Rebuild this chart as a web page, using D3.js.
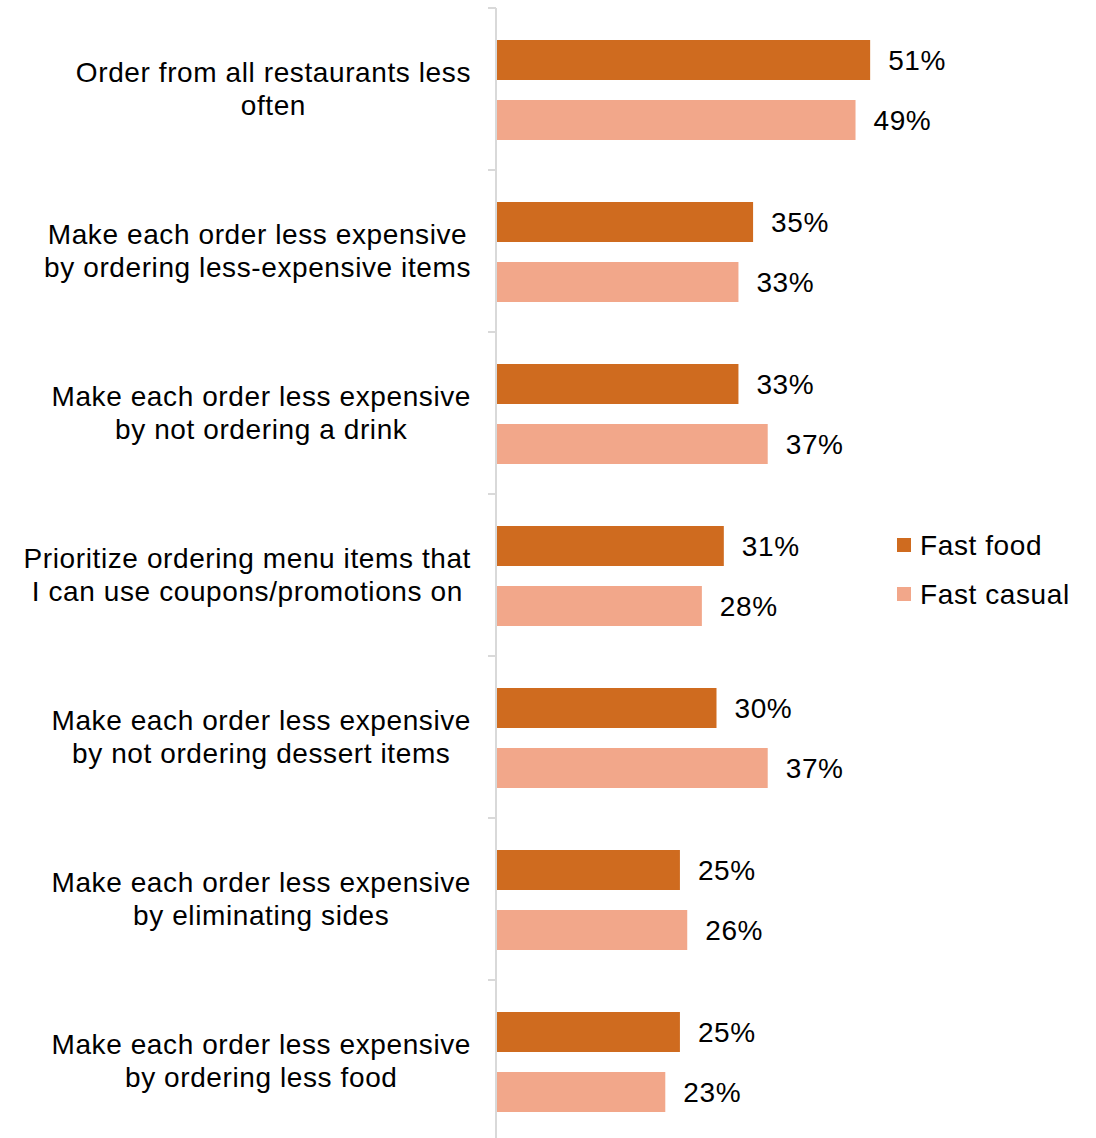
<!DOCTYPE html>
<html>
<head>
<meta charset="utf-8">
<script src="https://cdnjs.cloudflare.com/ajax/libs/d3/7.8.5/d3.min.js"></script>
<style>
  body { margin: 0; background: #fff; }
  svg text { font-family: "Liberation Sans", Arial, sans-serif; fill: #000; letter-spacing: 0.6px; }
</style>
</head>
<body>
<div id="chart"></div>
<script>
var categories = [
    ["Order from all restaurants less", "often"],
    ["Make each order less expensive", "by ordering less-expensive items"],
    ["Make each order less expensive", "by not ordering a drink"],
    ["Prioritize ordering menu items that", "I can use coupons/promotions on"],
    ["Make each order less expensive", "by not ordering dessert items"],
    ["Make each order less expensive", "by eliminating sides"],
    ["Make each order less expensive", "by ordering less food"]
];
var seriesNames = ["Fast food", "Fast casual"];
var fastFood = [51, 35, 33, 31, 30, 25, 25];
var fastCasual = [49, 33, 37, 28, 37, 26, 23];

var W = 1096, H = 1138;
var colors = { food: "#cf6b1f", casual: "#f2a78a", axis: "#d9d9d9" };
var axisX = 496;
var fontSize = "28px";

var svg = d3.select("#chart").append("svg")
    .attr("width", W)
    .attr("height", H);

var y = d3.scaleBand()
    .domain(d3.range(categories.length))
    .range([8, 8 + 162 * categories.length])
    .padding(0);

var x = d3.scaleLinear()
    .domain([0, 60])
    .range([axisX + 1, axisX + 1 + 439]);

var barH = 40;
var series = [
    { name: seriesNames[0], values: fastFood, color: colors.food, off: 32 },
    { name: seriesNames[1], values: fastCasual, color: colors.casual, off: 92 }
];

// bars + value labels
series.forEach(function (s) {
    var g = svg.append("g");
    g.selectAll("rect")
        .data(s.values)
        .enter().append("rect")
        .attr("x", x(0))
        .attr("y", function (d, i) { return y(i) + s.off; })
        .attr("width", function (d) { return x(d) - x(0); })
        .attr("height", barH)
        .attr("fill", s.color);
    g.selectAll("text")
        .data(s.values)
        .enter().append("text")
        .attr("x", function (d) { return x(d) + 18; })
        .attr("y", function (d, i) { return y(i) + s.off + barH / 2; })
        .attr("dy", "0.35em")
        .style("font-size", fontSize)
        .text(function (d) { return d + "%"; });
});

// axis line + ticks
var axis = d3.axisLeft(y)
    .tickSizeInner(8)
    .tickSizeOuter(0)
    .tickFormat("");
var gAxis = svg.append("g")
    .attr("transform", "translate(" + axisX + ",0)")
    .call(axis);
gAxis.select(".domain").remove();
gAxis.selectAll(".tick line")
    .attr("stroke", colors.axis)
    .attr("stroke-width", 2)
    .attr("transform", function () {
        return "translate(0," + (-y.bandwidth() / 2) + ")";
    });
svg.append("line")
    .attr("x1", axisX).attr("x2", axisX)
    .attr("y1", 8).attr("y2", H)
    .attr("stroke", colors.axis)
    .attr("stroke-width", 2);

// category labels: lines centred within a block, block right-aligned
var labelRight = 471;
categories.forEach(function (lines, i) {
    var g = svg.append("g");
    var cy = y(i) + y.bandwidth() / 2;
    var texts = lines.map(function (t, k) {
        return g.append("text")
            .attr("y", cy + (k - (lines.length - 1) / 2) * 33)
            .attr("dy", "0.35em")
            .attr("text-anchor", "middle")
            .style("font-size", fontSize)
            .text(t);
    });
    var maxW = d3.max(texts, function (t) { return t.node().getComputedTextLength(); });
    texts.forEach(function (t) { t.attr("x", labelRight - maxW / 2); });
});

// legend
var legend = svg.append("g").attr("transform", "translate(897,0)");
series.forEach(function (s, i) {
    var ly = 545 + i * 49;
    legend.append("rect")
        .attr("x", 0).attr("y", ly - 7)
        .attr("width", 14).attr("height", 14)
        .attr("fill", s.color);
    legend.append("text")
        .attr("x", 23).attr("y", ly)
        .attr("dy", "0.35em")
        .style("font-size", fontSize)
        .text(s.name);
});
</script>
</body>
</html>
